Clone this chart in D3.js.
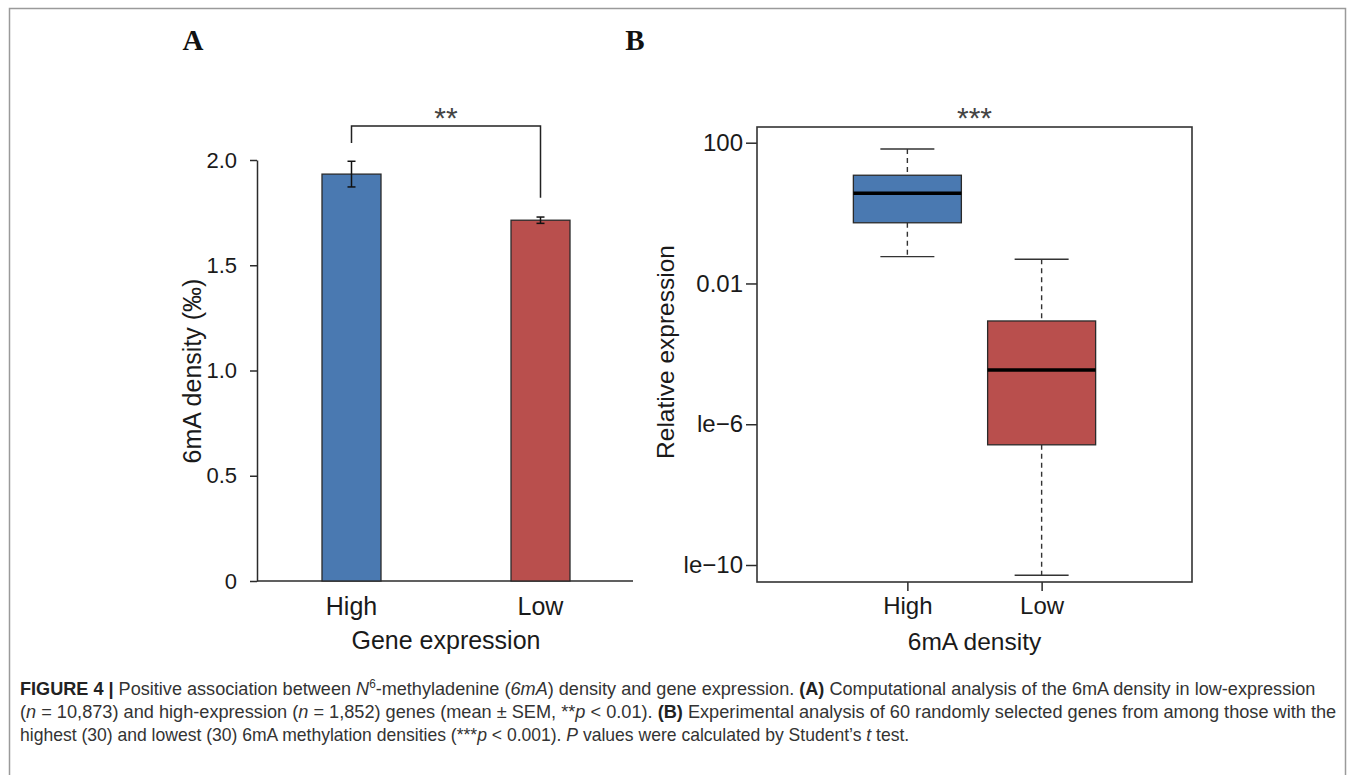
<!DOCTYPE html>
<html>
<head>
<meta charset="utf-8">
<script src="https://cdn.jsdelivr.net/npm/d3@7"></script>
<style>
  html, body { margin: 0; padding: 0; background: #fff; }
  svg { display: block; }
</style>
</head>
<body>
<svg id="chart" width="1355" height="775"></svg>
<script>
// ---------------- data ----------------
// Panel A: 6mA density (‰) by gene expression group (mean ± SEM)
const barCategories = ["High", "Low"];
const barMeans = [1.933, 1.714];
const barSEM = [0.061, 0.015];
const barTickValues = [0, 0.5, 1.0, 1.5, 2.0];
const barTickLabels = ["0", "0.5", "1.0", "1.5", "2.0"];

// Panel B: relative expression boxplot by 6mA density group
const boxCategories = ["High", "Low"];
const boxWhiskerLow = [0.058, 5.1e-11];
const boxQ1 = [0.53, 2.6e-7];
const boxMedian = [3.65, 3.5e-5];
const boxQ3 = [11.9, 8.6e-4];
const boxWhiskerHigh = [66, 0.049];
const boxTickValues = [100, 0.01, 1e-6, 1e-10];
const boxTickLabels = ["100", "0.01", "le\u22126", "le\u221210"];

const colors = ["#4a79b1", "#b94f4d"];

// ---------------- drawing ----------------
const svg = d3.select("#chart");
const FONT = "'Liberation Sans', Arial, Helvetica, sans-serif";
const axisColor = "#2b2b2b";
const textColor = "#1a1a1a";

// outer frame
svg.append("path")
  .attr("d", "M9.5,775 L9.5,8.5 L1345.5,8.5 L1345.5,775")
  .attr("fill", "none").attr("stroke", "#9a9a9a").attr("stroke-width", 1.5);

// panel letters
svg.append("text").attr("x", 193).attr("y", 50).attr("text-anchor", "middle")
  .attr("font-family", "'Liberation Serif', 'Times New Roman', serif").attr("font-weight", "bold")
  .attr("font-size", 29).attr("fill", "#111").text("A");
svg.append("text").attr("x", 635).attr("y", 50).attr("text-anchor", "middle")
  .attr("font-family", "'Liberation Serif', 'Times New Roman', serif").attr("font-weight", "bold")
  .attr("font-size", 29).attr("fill", "#111").text("B");

// ===== Panel A =====
const gA = svg.append("g");
const xA = d3.scalePoint().domain(barCategories).range([257, 635]).padding(0.5);
const yA = d3.scaleLinear().domain([0, 2]).range([581, 160]);
const barW = 59;

// y axis
const axA = gA.append("g").attr("transform", "translate(257,0)")
  .call(d3.axisLeft(yA).tickValues(barTickValues)
    .tickFormat((d, i) => barTickLabels[i]).tickSize(7).tickSizeOuter(0).tickPadding(13));
axA.select(".domain").attr("stroke", axisColor).attr("stroke-width", 1.5);
axA.selectAll(".tick line").attr("stroke", axisColor).attr("stroke-width", 1.5);
axA.selectAll(".tick text").attr("font-family", FONT).attr("font-size", 22).attr("fill", textColor);

// baseline
gA.append("line").attr("x1", 257).attr("x2", 633).attr("y1", yA(0)).attr("y2", yA(0))
  .attr("stroke", axisColor).attr("stroke-width", 1.5);

// bars
gA.selectAll("rect.bar").data(barMeans).join("rect").attr("class", "bar")
  .attr("x", (d, i) => xA(barCategories[i]) - barW / 2)
  .attr("width", barW)
  .attr("y", d => yA(d))
  .attr("height", d => yA(0) - yA(d))
  .attr("fill", (d, i) => colors[i])
  .attr("stroke", "#2a2a2a").attr("stroke-width", 1.3);

// error bars
barMeans.forEach((m, i) => {
  const cx = xA(barCategories[i]);
  const lo = yA(m - barSEM[i]), hi = yA(m + barSEM[i]);
  gA.append("line").attr("x1", cx).attr("x2", cx).attr("y1", lo).attr("y2", hi)
    .attr("stroke", "#111").attr("stroke-width", 1.5);
  [lo, hi].forEach(yy => gA.append("line").attr("x1", cx - 4).attr("x2", cx + 4)
    .attr("y1", yy).attr("y2", yy).attr("stroke", "#111").attr("stroke-width", 1.5));
});

// x labels
gA.selectAll("text.xl").data(barCategories).join("text").attr("class", "xl")
  .attr("x", d => xA(d)).attr("y", 615).attr("text-anchor", "middle")
  .attr("font-family", FONT).attr("font-size", 25).attr("fill", textColor).text(d => d);
gA.append("text").attr("x", 446).attr("y", 649).attr("text-anchor", "middle")
  .attr("font-family", FONT).attr("font-size", 25).attr("fill", textColor).text("Gene expression");
gA.append("text").attr("transform", "translate(201,371) rotate(-90)").attr("text-anchor", "middle")
  .attr("font-family", FONT).attr("font-size", 25).attr("fill", textColor).text("6mA density (\u2030)");

// significance bracket
const bx1 = xA("High"), bx2 = xA("Low");
gA.append("path")
  .attr("d", `M${bx1},143 L${bx1},126 L${bx2},126 L${bx2},${yA(1.73) - 19}`)
  .attr("fill", "none").attr("stroke", "#222").attr("stroke-width", 1.5);
gA.append("text").attr("x", (bx1 + bx2) / 2).attr("y", 128).attr("text-anchor", "middle")
  .attr("font-family", FONT).attr("font-size", 30).attr("fill", "#444").text("**");

// ===== Panel B =====
const gB = svg.append("g");
const xB = d3.scalePoint().domain(boxCategories).range([757, 1192]).padding(1.12);
const yB = d3.scaleLog().domain([1e-10, 100]).range([565, 142.7]);
const boxW = 108, capW = 54;
const frame = { x0: 757, x1: 1192, y0: 127, y1: 582 };

// y axis (ticks only; the frame draws the line)
const axB = gB.append("g").attr("transform", `translate(${frame.x0},0)`)
  .call(d3.axisLeft(yB).tickValues(boxTickValues)
    .tickFormat((d, i) => boxTickLabels[i]).tickSize(11).tickSizeOuter(0).tickPadding(3));
axB.select(".domain").remove();
axB.selectAll(".tick line").attr("stroke", axisColor).attr("stroke-width", 1.5);
axB.selectAll(".tick text").attr("font-family", FONT).attr("font-size", 24).attr("fill", textColor);

// x axis ticks
const axBx = gB.append("g").attr("transform", `translate(0,${frame.y1})`)
  .call(d3.axisBottom(xB).tickSize(9).tickSizeOuter(0).tickPadding(6));
axBx.select(".domain").remove();
axBx.selectAll(".tick line").attr("stroke", axisColor).attr("stroke-width", 1.5);
axBx.selectAll(".tick text").attr("font-family", FONT).attr("font-size", 24).attr("fill", textColor);

// frame
gB.append("rect").attr("x", frame.x0).attr("y", frame.y0)
  .attr("width", frame.x1 - frame.x0).attr("height", frame.y1 - frame.y0)
  .attr("fill", "none").attr("stroke", "#333").attr("stroke-width", 1.6);

// boxes
boxCategories.forEach((c, i) => {
  const cx = xB(c);
  const dash = "5,4";
  gB.append("line").attr("x1", cx).attr("x2", cx).attr("y1", yB(boxWhiskerHigh[i])).attr("y2", yB(boxQ3[i]))
    .attr("stroke", "#333").attr("stroke-width", 1.4).attr("stroke-dasharray", dash);
  gB.append("line").attr("x1", cx).attr("x2", cx).attr("y1", yB(boxQ1[i])).attr("y2", yB(boxWhiskerLow[i]))
    .attr("stroke", "#333").attr("stroke-width", 1.4).attr("stroke-dasharray", dash);
  [boxWhiskerHigh[i], boxWhiskerLow[i]].forEach(v => gB.append("line")
    .attr("x1", cx - capW / 2).attr("x2", cx + capW / 2).attr("y1", yB(v)).attr("y2", yB(v))
    .attr("stroke", "#333").attr("stroke-width", 1.4));
  gB.append("rect").attr("x", cx - boxW / 2).attr("width", boxW)
    .attr("y", yB(boxQ3[i])).attr("height", yB(boxQ1[i]) - yB(boxQ3[i]))
    .attr("fill", colors[i]).attr("stroke", "#2a2a2a").attr("stroke-width", 1.3);
  gB.append("line").attr("x1", cx - boxW / 2).attr("x2", cx + boxW / 2)
    .attr("y1", yB(boxMedian[i])).attr("y2", yB(boxMedian[i]))
    .attr("stroke", "#000").attr("stroke-width", 3.5);
});

gB.append("text").attr("x", (frame.x0 + frame.x1) / 2).attr("y", 128).attr("text-anchor", "middle")
  .attr("font-family", FONT).attr("font-size", 30).attr("fill", "#444").text("***");
gB.append("text").attr("x", (frame.x0 + frame.x1) / 2).attr("y", 650).attr("text-anchor", "middle")
  .attr("font-family", FONT).attr("font-size", 24.5).attr("fill", textColor).text("6mA density");
gB.append("text").attr("transform", "translate(674,352) rotate(-90)").attr("text-anchor", "middle")
  .attr("font-family", FONT).attr("font-size", 24.5).attr("fill", textColor).text("Relative expression");

// ===== Caption =====
const captionLines = [
  [["FIGURE 4 | ", "b"], ["Positive association between ", ""], ["N", "i"], ["6", "sup"],
   ["-methyladenine (", ""], ["6mA", "i"], [") density and gene expression. ", ""], ["(A)", "b"],
   [" Computational analysis of the 6mA density in low-expression", ""]],
  [["(", ""], ["n", "i"], [" = 10,873) and high-expression (", ""], ["n", "i"], [" = 1,852) genes (mean \u00b1 SEM, **", ""],
   ["p", "i"], [" < 0.01). ", ""], ["(B)", "b"], [" Experimental analysis of 60 randomly selected genes from among those with the", ""]],
  [["highest (30) and lowest (30) 6mA methylation densities (***", ""], ["p", "i"], [" < 0.001). ", ""], ["P", "i"],
   [" values were calculated by Student\u2019s ", ""], ["t", "i"], [" test.", ""]]
];
const captionY = [695, 718, 741];
const captionRight = [1316, 1337, 910];
captionLines.forEach((parts, li) => {
  const t = svg.append("text").attr("x", 0).attr("y", 0)
    .attr("font-family", FONT).attr("font-size", 18.5).attr("fill", "#333")
    .style("white-space", "pre").attr("xml:space", "preserve");
  parts.forEach(([s, st]) => {
    const ts = t.append("tspan").text(s);
    if (st === "b") ts.attr("font-weight", "bold").attr("fill", "#222");
    if (st === "i") ts.attr("font-style", "italic");
    if (st === "sup") ts.attr("font-size", 12).attr("dy", -7);
  });
  // restore baseline after superscript
  t.selectAll("tspan").each(function (d, k, nodes) {
    if (k > 0 && nodes[k - 1].getAttribute("dy") === "-7") d3.select(this).attr("dy", 7);
  });
  const w = t.node().getComputedTextLength();
  const sx = (captionRight[li] - 20) / w;
  t.attr("transform", `translate(20,${captionY[li]}) scale(${sx},1)`);
});
</script>
</body>
</html>
